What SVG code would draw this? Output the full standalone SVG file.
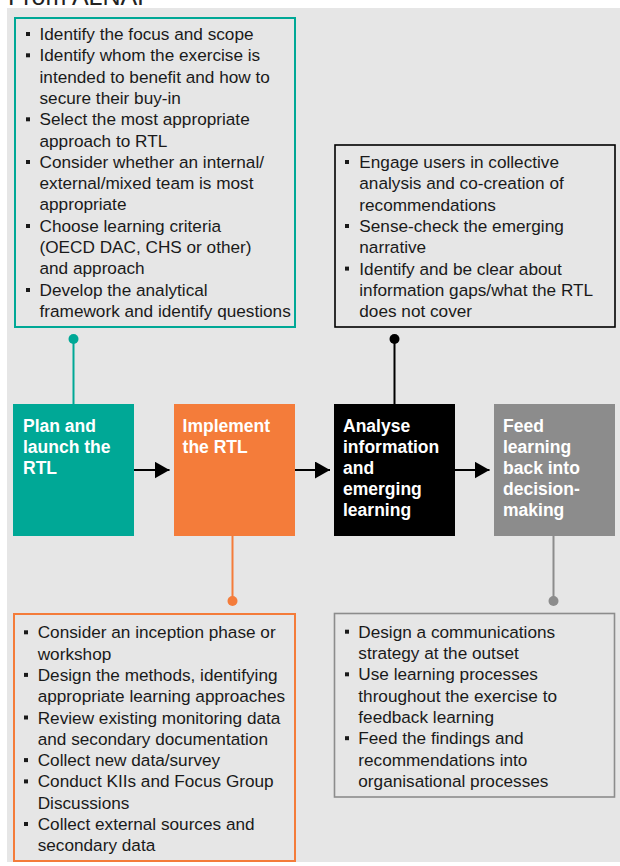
<svg xmlns="http://www.w3.org/2000/svg" width="620" height="866" viewBox="0 0 620 866">
<style>
.body{font-family:"Liberation Sans",Arial,Helvetica,sans-serif;font-size:17.2px;fill:#1a1a1a}
.lbl{font-family:"Liberation Sans",Arial,Helvetica,sans-serif;font-size:17.5px;font-weight:bold;fill:#ffffff}
.bul{fill:#1a1a1a}
.arrow{stroke:#000;stroke-width:2.2;fill:none}
</style>
<defs>
<marker id="ah" markerUnits="userSpaceOnUse" markerWidth="16" markerHeight="18" refX="15" refY="8.5" orient="auto">
<path d="M0,0 L15,8.5 L0,17 z" fill="#000"/>
</marker>
</defs>
<text x="8" y="5" font-family="Liberation Sans, Arial, sans-serif" font-size="25" fill="#222">From ALNAP</text>
<rect x="7" y="8" width="613" height="854" fill="#e6e6e6"/>

<g id="connectors">
<line class="arrow" x1="134" y1="470" x2="169.5" y2="470" marker-end="url(#ah)"/>
<line class="arrow" x1="295" y1="470" x2="330" y2="470" marker-end="url(#ah)"/>
<line class="arrow" x1="455" y1="470" x2="489.5" y2="470" marker-end="url(#ah)"/>
<line x1="73.5" y1="339" x2="73.5" y2="404" stroke="#00a896" stroke-width="2"/>
<circle cx="73.5" cy="339" r="5" fill="#00a896"/>
<line x1="394.5" y1="339" x2="394.5" y2="404" stroke="#000" stroke-width="2"/>
<circle cx="394.5" cy="339" r="5" fill="#000"/>
<line x1="232.5" y1="536" x2="232.5" y2="601" stroke="#f47c3a" stroke-width="2"/>
<circle cx="232.5" cy="601" r="5" fill="#f47c3a"/>
<line x1="553.5" y1="536" x2="553.5" y2="601" stroke="#8c8c8c" stroke-width="2"/>
<circle cx="553.5" cy="601" r="5" fill="#8c8c8c"/>
</g>

<g id="plan-notes">
<rect x="15" y="18" width="280" height="309" fill="none" stroke="#00a896" stroke-width="2"/>
<g class="bul">
<rect x="26" y="32" width="4" height="4"/>
<rect x="26" y="53.3" width="4" height="4"/>
<rect x="26" y="117.3" width="4" height="4"/>
<rect x="26" y="160" width="4" height="4"/>
<rect x="26" y="224" width="4" height="4"/>
<rect x="26" y="288" width="4" height="4"/>
</g>
<text class="body">
<tspan x="39.5" y="40">Identify the focus and scope</tspan>
<tspan x="39.5" y="61.3">Identify whom the exercise is</tspan>
<tspan x="39.5" y="82.6">intended to benefit and how to</tspan>
<tspan x="39.5" y="103.9">secure their buy-in</tspan>
<tspan x="39.5" y="125.2">Select the most appropriate</tspan>
<tspan x="39.5" y="146.5">approach to RTL</tspan>
<tspan x="39.5" y="167.8">Consider whether an internal/</tspan>
<tspan x="39.5" y="189.1">external/mixed team is most</tspan>
<tspan x="39.5" y="210.4">appropriate</tspan>
<tspan x="39.5" y="231.7">Choose learning criteria</tspan>
<tspan x="39.5" y="253">(OECD DAC, CHS or other)</tspan>
<tspan x="39.5" y="274.3">and approach</tspan>
<tspan x="39.5" y="295.6">Develop the analytical</tspan>
<tspan x="39.5" y="316.9">framework and identify questions</tspan>
</text>
</g>

<g id="analyse-notes">
<rect x="335" y="145" width="280" height="182" fill="none" stroke="#000" stroke-width="1.6"/>
<g class="bul">
<rect x="345" y="160" width="4" height="4"/>
<rect x="345" y="224" width="4" height="4"/>
<rect x="345" y="266.6" width="4" height="4"/>
</g>
<text class="body">
<tspan x="359.3" y="168">Engage users in collective</tspan>
<tspan x="359.3" y="189.3">analysis and co-creation of</tspan>
<tspan x="359.3" y="210.6">recommendations</tspan>
<tspan x="359.3" y="231.9">Sense-check the emerging</tspan>
<tspan x="359.3" y="253.2">narrative</tspan>
<tspan x="359.3" y="274.5">Identify and be clear about</tspan>
<tspan x="359.3" y="295.8">information gaps/what the RTL</tspan>
<tspan x="359.3" y="317.1">does not cover</tspan>
</text>
</g>

<g id="plan">
<rect x="13" y="404" width="121" height="132" fill="#00a896"/>
<text class="lbl">
<tspan x="23" y="431.5">Plan and</tspan>
<tspan x="23" y="452.7">launch the</tspan>
<tspan x="23" y="473.9">RTL</tspan>
</text>
</g>

<g id="implement">
<rect x="174" y="404" width="121" height="132" fill="#f47c3a"/>
<text class="lbl">
<tspan x="182.6" y="431.5">Implement</tspan>
<tspan x="182.6" y="452.7">the RTL</tspan>
</text>
</g>

<g id="analyse">
<rect x="334" y="404" width="121" height="132" fill="#000"/>
<text class="lbl">
<tspan x="343" y="431.5">Analyse</tspan>
<tspan x="343" y="452.7">information</tspan>
<tspan x="343" y="473.9">and</tspan>
<tspan x="343" y="495.1">emerging</tspan>
<tspan x="343" y="516.3">learning</tspan>
</text>
</g>

<g id="feed">
<rect x="494" y="404" width="121" height="132" fill="#8c8c8c"/>
<text class="lbl">
<tspan x="503" y="431.5">Feed</tspan>
<tspan x="503" y="452.7">learning</tspan>
<tspan x="503" y="473.9">back into</tspan>
<tspan x="503" y="495.1">decision-</tspan>
<tspan x="503" y="516.3">making</tspan>
</text>
</g>

<g id="implement-notes">
<rect x="14" y="614" width="281" height="247" fill="none" stroke="#f47c3a" stroke-width="2"/>
<g class="bul">
<rect x="24" y="630.3" width="4" height="4"/>
<rect x="24" y="672.9" width="4" height="4"/>
<rect x="24" y="715.5" width="4" height="4"/>
<rect x="24" y="758.1" width="4" height="4"/>
<rect x="24" y="779.4" width="4" height="4"/>
<rect x="24" y="822" width="4" height="4"/>
</g>
<text class="body">
<tspan x="37.7" y="638.3">Consider an inception phase or</tspan>
<tspan x="37.7" y="659.6">workshop</tspan>
<tspan x="37.7" y="680.9">Design the methods, identifying</tspan>
<tspan x="37.7" y="702.2">appropriate learning approaches</tspan>
<tspan x="37.7" y="723.5">Review existing monitoring data</tspan>
<tspan x="37.7" y="744.8">and secondary documentation</tspan>
<tspan x="37.7" y="766.1">Collect new data/survey</tspan>
<tspan x="37.7" y="787.4">Conduct KIIs and Focus Group</tspan>
<tspan x="37.7" y="808.7">Discussions</tspan>
<tspan x="37.7" y="830">Collect external sources and</tspan>
<tspan x="37.7" y="851.3">secondary data</tspan>
</text>
</g>

<g id="feed-notes">
<rect x="334.5" y="613.5" width="280" height="183.5" fill="none" stroke="#8c8c8c" stroke-width="1.6"/>
<g class="bul">
<rect x="345" y="629.7" width="4" height="4"/>
<rect x="345" y="672.3" width="4" height="4"/>
<rect x="345" y="736.2" width="4" height="4"/>
</g>
<text class="body">
<tspan x="358.3" y="637.7">Design a communications</tspan>
<tspan x="358.3" y="659">strategy at the outset</tspan>
<tspan x="358.3" y="680.3">Use learning processes</tspan>
<tspan x="358.3" y="701.6">throughout the exercise to</tspan>
<tspan x="358.3" y="722.9">feedback learning</tspan>
<tspan x="358.3" y="744.2">Feed the findings and</tspan>
<tspan x="358.3" y="765.5">recommendations into</tspan>
<tspan x="358.3" y="786.8">organisational processes</tspan>
</text>
</g>
</svg>
